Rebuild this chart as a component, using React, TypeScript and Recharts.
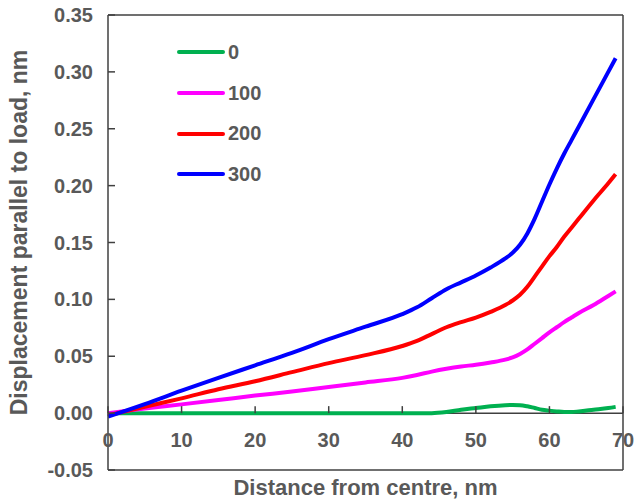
import * as Recharts from 'recharts';

const LineChart = Recharts.LineChart as unknown as React.FC<any>;
const Line = Recharts.Line as unknown as React.FC<any>;
const XAxis = Recharts.XAxis as unknown as React.FC<any>;
const YAxis = Recharts.YAxis as unknown as React.FC<any>;
const Legend = Recharts.Legend as unknown as React.FC<any>;
const ReferenceLine = Recharts.ReferenceLine as unknown as React.FC<any>;
const Label = Recharts.Label as unknown as React.FC<any>;

// distance from centre, nm
const distance = [0, 5, 10, 15, 20, 25, 30, 35, 40, 42, 44, 46, 48, 50, 52, 54, 55, 56, 57, 58, 59, 60, 61, 62, 63, 64, 66, 68, 69];

// displacement parallel to load, nm, per load
const load0 = [0, 0, 0, 0, 0, 0, 0, 0, 0, 0, 0, 0.001, 0.003, 0.0045, 0.006, 0.007, 0.0072, 0.007, 0.006, 0.0045, 0.003, 0.0022, 0.0015, 0.001, 0.001, 0.0015, 0.003, 0.0045, 0.0055];
const load100 = [0, 0.004, 0.0077, 0.0115, 0.0154, 0.019, 0.023, 0.027, 0.031, 0.0335, 0.0365, 0.039, 0.041, 0.0425, 0.0445, 0.047, 0.049, 0.052, 0.056, 0.061, 0.066, 0.071, 0.0755, 0.08, 0.084, 0.088, 0.095, 0.103, 0.107];
const load200 = [-0.002, 0.0056, 0.013, 0.021, 0.028, 0.036, 0.044, 0.051, 0.059, 0.0635, 0.0695, 0.0755, 0.08, 0.084, 0.089, 0.095, 0.099, 0.104, 0.111, 0.12, 0.129, 0.138, 0.146, 0.155, 0.163, 0.171, 0.187, 0.202, 0.21];
const load300 = [-0.003, 0.008, 0.0197, 0.031, 0.042, 0.053, 0.065, 0.076, 0.087, 0.093, 0.101, 0.109, 0.115, 0.121, 0.128, 0.136, 0.141, 0.148, 0.158, 0.171, 0.186, 0.201, 0.215, 0.228, 0.24, 0.252, 0.276, 0.3, 0.312];

const seriesNames = ['0', '100', '200', '300'];
const seriesColors = ['#00B050', '#FF00FF', '#FF0000', '#0000FF'];
const seriesValues = [load0, load100, load200, load300];

const xTicks = [0, 10, 20, 30, 40, 50, 60, 70];
const yTicks = [-0.05, 0, 0.05, 0.1, 0.15, 0.2, 0.25, 0.3, 0.35];

const Y_MIN = -0.05;
const Y_MAX = 0.35;
const CHART_W = 636;
const CHART_H = 501;
const MARGIN = { top: 15, right: 13, bottom: 0, left: 0 };
const X_AXIS_H = 31;
const PLOT_H = CHART_H - MARGIN.top - MARGIN.bottom - X_AXIS_H;
const ZERO_OFFSET = (PLOT_H * (0 - Y_MIN)) / (Y_MAX - Y_MIN);

const FONT = '"Liberation Sans", Arial, sans-serif';
const TEXT = '#595959';
const AXIS = '#404040';

const data = distance.map((d, i) => {
  const row: Record<string, number> = { distance: d };
  seriesNames.forEach((n, s) => {
    row[n] = seriesValues[s][i];
  });
  return row;
});

// x ticks sit on the zero line, pointing up
const XTick = ({ x, y, payload }: any) => {
  const y0 = y - ZERO_OFFSET;
  return (
    <g>
      <line x1={x} x2={x} y1={y0} y2={y0 - 7} stroke={AXIS} strokeWidth={1.5} />
      <text x={x} y={y0 + 34} textAnchor="middle" fill={TEXT} fontFamily={FONT} fontWeight="bold" fontSize={20}>
        {payload.value}
      </text>
    </g>
  );
};

const YTick = ({ x, y, payload }: any) => (
  <g>
    <line x1={x} x2={x + 7} y1={y} y2={y} stroke={AXIS} strokeWidth={1.5} />
    <text x={x - 15} y={y + 7} textAnchor="end" fill={TEXT} fontFamily={FONT} fontWeight="bold" fontSize={20}>
      {payload.value.toFixed(2)}
    </text>
  </g>
);

const YTitle = ({ viewBox }: any) => {
  const x = viewBox.x + 27;
  const y = viewBox.y + viewBox.height / 2 - 10;
  return (
    <text x={x} y={y} transform={`rotate(-90, ${x}, ${y})`} textAnchor="middle" fill={TEXT} fontFamily={FONT} fontWeight="bold" fontSize={23}>
      Displacement parallel to load, nm
    </text>
  );
};

const LegendContent = ({ payload }: any) => (
  <div style={{ fontFamily: FONT }}>
    {(payload || []).map((entry: any) => (
      <div key={entry.value} style={{ display: 'flex', alignItems: 'center', height: 40.7 }}>
        <div style={{ width: 48, height: 4, borderRadius: 2, background: entry.color }} />
        <span style={{ marginLeft: 3, fontSize: 20, fontWeight: 'bold', color: TEXT }}>{entry.value}</span>
      </div>
    ))}
  </div>
);

export default function App() {
  return (
    <div style={{ position: 'absolute', left: 0, top: 0, width: CHART_W, height: CHART_H, background: '#fff' }}>
      <LineChart width={CHART_W} height={CHART_H} data={data} margin={MARGIN}>
        <XAxis
          dataKey="distance"
          type="number"
          domain={[0, 70]}
          ticks={xTicks}
          interval={0}
          height={X_AXIS_H}
          tickSize={0}
          tickMargin={0}
          tickLine={false}
          tick={<XTick />}
          axisLine={{ stroke: AXIS, strokeWidth: 1.5 }}
        >
          <Label
            value="Distance from centre, nm"
            position="insideBottom"
            offset={6}
            fill={TEXT}
            fontFamily={FONT}
            fontWeight="bold"
            fontSize={22}
          />
        </XAxis>
        <YAxis
          type="number"
          domain={[Y_MIN, Y_MAX]}
          ticks={yTicks}
          interval={0}
          width={108}
          tickSize={0}
          tickMargin={0}
          tickLine={false}
          tick={<YTick />}
          axisLine={{ stroke: AXIS, strokeWidth: 1.5 }}
          label={<YTitle />}
        />
        <ReferenceLine y={Y_MAX} stroke={AXIS} strokeWidth={1.5} />
        <ReferenceLine x={70} stroke={AXIS} strokeWidth={1.5} />
        <ReferenceLine y={0} stroke={AXIS} strokeWidth={1.5} />
        <Legend
          layout="vertical"
          align="center"
          verticalAlign="middle"
          content={<LegendContent />}
          wrapperStyle={{ left: 177, top: 32, width: 'auto' }}
        />
        {seriesNames.map((n, i) => (
          <Line
            key={n}
            dataKey={n}
            name={n}
            type="monotone"
            stroke={seriesColors[i]}
            strokeWidth={4}
            dot={false}
            isAnimationActive={false}
          />
        ))}
      </LineChart>
    </div>
  );
}
